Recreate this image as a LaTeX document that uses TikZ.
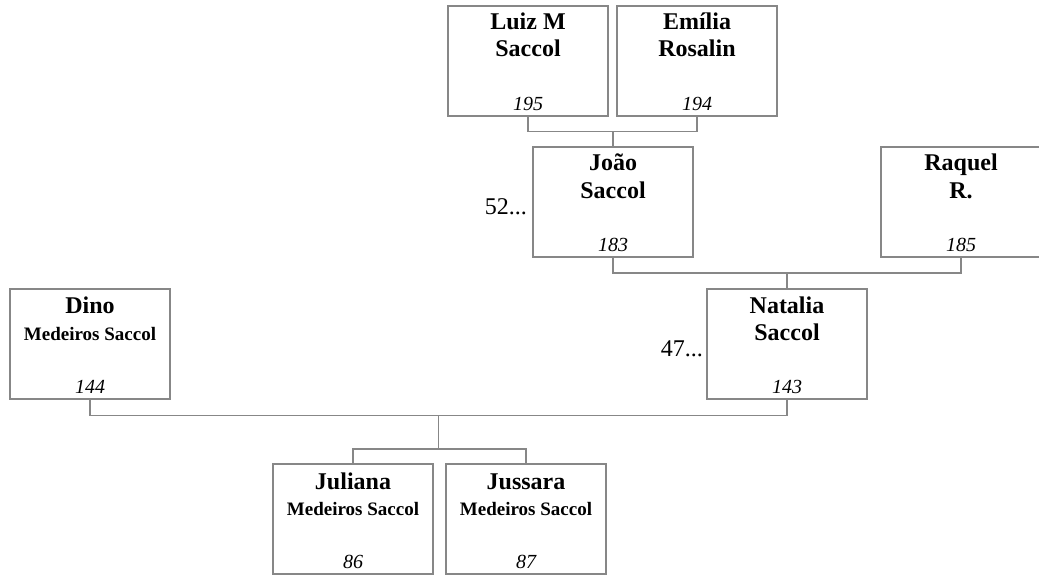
\documentclass[tikz,border=0pt]{standalone}
\usepackage{fontspec}
\setmainfont{Liberation Serif}
\usetikzlibrary{calc}
\definecolor{linegray}{RGB}{135,135,135}
\tikzset{
  pbox/.style={draw=linegray, line width=1.1pt, minimum width=160pt, minimum height=110pt, inner sep=0pt, outer sep=0pt, anchor=north west},
  nmain/.style={font=\fontsize{24}{27}\selectfont\bfseries, inner sep=0pt, anchor=base},
  nsmall/.style={font=\fontsize{19}{22}\selectfont\bfseries, inner sep=0pt, anchor=base},
  num/.style={font=\fontsize{20}{24}\selectfont\itshape, inner sep=0pt, anchor=base},
  side/.style={font=\fontsize{24}{27}\selectfont, inner sep=0pt, anchor=base east},
  conn/.style={draw=linegray, line width=1.1pt},
}
\begin{document}
\begin{tikzpicture}[x=1pt,y=-1pt]
\useasboundingbox (0,0) rectangle (1039,575);
% boxes
\node[pbox] (luiz) at (448,6) {};
\node[pbox] (emilia) at (617,6) {};
\node[pbox] (joao) at (533,147) {};
\node[pbox] (raquel) at (881,147) {};
\node[pbox] (dino) at (10,289) {};
\node[pbox] (natalia) at (707,289) {};
\node[pbox] (juliana) at (273,464) {};
\node[pbox] (jussara) at (446,464) {};
% texts
\node[nmain] (luiz1) at ($(luiz.north)+(0,24)$) {Luiz M};
\node[nmain] (luiz2) at ($(luiz.north)+(0,51)$) {Saccol};
\node[num] (luizn) at ($(luiz.north)+(0,104.5)$) {195};
\node[nmain] (emilia1) at ($(emilia.north)+(0,24)$) {Emília};
\node[nmain] (emilia2) at ($(emilia.north)+(0,51)$) {Rosalin};
\node[num] (emilian) at ($(emilia.north)+(0,104.5)$) {194};
\node[nmain] (joao1) at ($(joao.north)+(0,24)$) {João};
\node[nmain] (joao2) at ($(joao.north)+(0,51)$) {Saccol};
\node[num] (joaon) at ($(joao.north)+(0,104.5)$) {183};
\node[nmain] (raquel1) at ($(raquel.north)+(0,24)$) {Raquel};
\node[nmain] (raquel2) at ($(raquel.north)+(0,51)$) {R.};
\node[num] (raqueln) at ($(raquel.north)+(0,104.5)$) {185};
\node[nmain] (dino1) at ($(dino.north)+(0,24.5)$) {Dino};
\node[nsmall] (dino2) at ($(dino.north)+(0,51)$) {Medeiros Saccol};
\node[num] (dinon) at ($(dino.north)+(0,104)$) {144};
\node[nmain] (natalia1) at ($(natalia.north)+(0,24.5)$) {Natalia};
\node[nmain] (natalia2) at ($(natalia.north)+(0,51)$) {Saccol};
\node[num] (natalian) at ($(natalia.north)+(0,104)$) {143};
\node[nmain] (juliana1) at ($(juliana.north)+(0,25.5)$) {Juliana};
\node[nsmall] (juliana2) at ($(juliana.north)+(0,51)$) {Medeiros Saccol};
\node[num] (julianan) at ($(juliana.north)+(0,104.5)$) {86};
\node[nmain] (jussara1) at ($(jussara.north)+(0,25.5)$) {Jussara};
\node[nsmall] (jussara2) at ($(jussara.north)+(0,51)$) {Medeiros Saccol};
\node[num] (jussaran) at ($(jussara.north)+(0,104.5)$) {87};
\node[side] (s52) at (527,214) {52...};
\node[side] (s47) at (703,356) {47...};
% connectors
\coordinate (j1) at ($(luiz.south)+(0,15.5)$);
\draw[conn] (luiz.south) -- (j1) -| (emilia.south);
\draw[conn] (joao.north) -- (joao.north |- j1);
\coordinate (j2) at ($(joao.south)+(0,16)$);
\draw[conn] (joao.south) -- (j2) -| (raquel.south);
\draw[conn] (natalia.north) -- (natalia.north |- j2);
\coordinate (j3) at ($(dino.south)+(0,16.5)$);
\draw[conn] (dino.south) -- (j3) -| (natalia.south);
\coordinate (j4) at ($(juliana.north)+(0,-15)$);
\draw[conn] (juliana.north) -- (j4) -| (jussara.north);
\coordinate (j5) at ($(j3)!.5!(j3 -| natalia.south)$);
\draw[conn] (j5) -- (j5 |- j4);
\end{tikzpicture}
\end{document}
